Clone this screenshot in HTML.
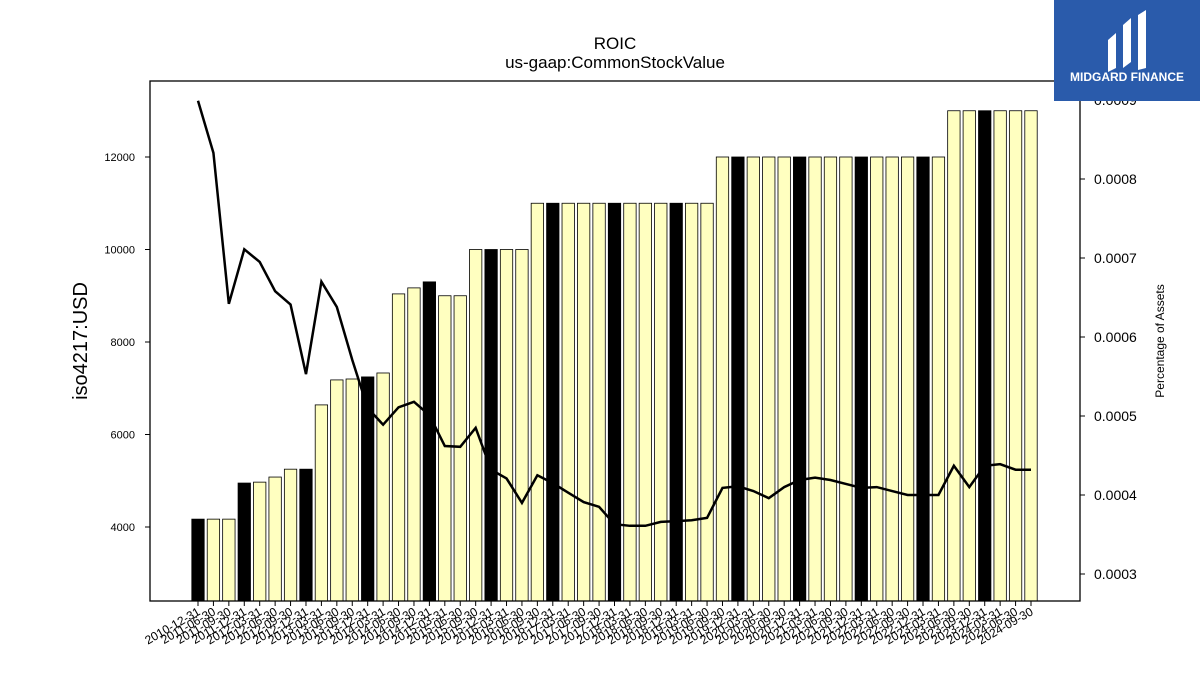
<!DOCTYPE html>
<html><head><meta charset="utf-8"><style>
body{margin:0;background:#fff;width:1200px;height:675px;overflow:hidden;font-family:"Liberation Sans",sans-serif}
</style></head><body>
<svg id="chart" width="1200" height="675" xmlns="http://www.w3.org/2000/svg" font-family="Liberation Sans, sans-serif">
<text x="615" y="49" text-anchor="middle" font-size="17">ROIC</text>
<text x="615" y="68" text-anchor="middle" font-size="17">us-gaap:CommonStockValue</text>
<text transform="translate(87,341) rotate(-90)" text-anchor="middle" font-size="20">iso4217:USD</text>
<text transform="translate(1164,341) rotate(-90)" text-anchor="middle" font-size="12">Percentage of Assets</text>
<g id="bars"></g><g id="line"></g><g id="axes"></g>
<rect x="150" y="81" width="930" height="520" fill="none" stroke="#000" stroke-width="1.3"/>
<g>
<rect x="1054" y="0" width="146" height="101" fill="#2a5bab"/>
<path d="M1108 40 L1116 33 L1116 68 L1108 72 Z M1123 25 L1131 18 L1131 62 L1123 68 Z M1138 15 L1146 10 L1146 68 L1138 70 Z" fill="#fff"/>
<text x="1127" y="81" text-anchor="middle" font-size="12" font-weight="bold" fill="#fff">MIDGARD FINANCE</text>
</g>
</svg>
<script>
const dates=["2010-12-31"];
(function(){const q=["03-31","06-30","09-30","12-31"];for(let y=2011;y<=2024;y++)for(let i=0;i<4;i++){if(y==2011&&i==0)continue;if(y==2024&&i==3)continue;dates.push(y+"-"+q[i]);}})();
const values=[4170,4170,4170,4950,4970,5080,5250,5250,6640,7180,7200,7245,7330,9040,9170,9300,9000,9000,10000,10000,10000,10000,11000,11000,11000,11000,11000,11000,11000,11000,11000,11000,11000,11000,12000,12000,12000,12000,12000,12000,12000,12000,12000,12000,12000,12000,12000,12000,12000,13000,13000,13000,13000,13000,13000];
const pct=[0.000899,0.000833,0.000642,0.000711,0.000695,0.000658,0.000641,0.000553,0.00067,0.000638,0.000571,0.00051,0.000489,0.000511,0.000518,0.000501,0.000462,0.000461,0.000485,0.000432,0.000421,0.00039,0.000425,0.000415,0.000403,0.000391,0.000385,0.000363,0.000361,0.000361,0.000366,0.000367,0.000368,0.000371,0.000409,0.000411,0.000405,0.000396,0.00041,0.000419,0.000422,0.000419,0.000414,0.000409,0.00041,0.000405,0.0004,0.0004,0.0004,0.000437,0.00041,0.000437,0.000439,0.000432,0.000432];
const leftTicks=[4000,6000,8000,10000,12000];
const rightTicks=[0.0003,0.0004,0.0005,0.0006,0.0007,0.0008,0.0009];
const NS="http://www.w3.org/2000/svg";
const X=i=>198+i*(1031-198)/(dates.length-1);
const Y=v=>527-(v-4000)*370/8000;
const Y2=v=>100+(0.0009-v)*790000;
function mk(t,a,p){const e=document.createElementNS(NS,t);for(const k in a)e.setAttribute(k,a[k]);p.appendChild(e);return e;}
const bars=document.getElementById('bars'),line=document.getElementById('line'),axes=document.getElementById('axes');
values.forEach((v,i)=>{const black=(i==0||(i>=3&&(i-3)%4==0));
const r=mk('rect',{x:X(i)-6.2,y:Y(v),width:12.4,height:601-Y(v),fill:black?'#000':'#ffffc0',stroke:'#000','stroke-width':0.8},bars);

});
const pl=mk('polyline',{points:pct.map((v,i)=>X(i)+','+Y2(v)).join(' '),fill:'none',stroke:'#000','stroke-width':2.5},line);


leftTicks.forEach(t=>{mk('line',{x1:145,x2:150,y1:Y(t),y2:Y(t),stroke:'#000'},axes);
const tx=mk('text',{x:135,y:Y(t)+4,'text-anchor':'end','font-size':11},axes);tx.textContent=t;

});
rightTicks.forEach(t=>{mk('line',{x1:1080,x2:1085,y1:Y2(t),y2:Y2(t),stroke:'#000'},axes);
const tx=mk('text',{x:1094,y:Y2(t)+5,'font-size':14},axes);tx.textContent=t.toFixed(4);

});
dates.forEach((d,i)=>{mk('line',{x1:X(i),x2:X(i),y1:601,y2:606,stroke:'#000'},axes);
const tx=mk('text',{transform:`translate(${X(i)+3},${614}) rotate(-30)`,'text-anchor':'end','font-size':12},axes);tx.textContent=d;

});
</script>
</body></html>
